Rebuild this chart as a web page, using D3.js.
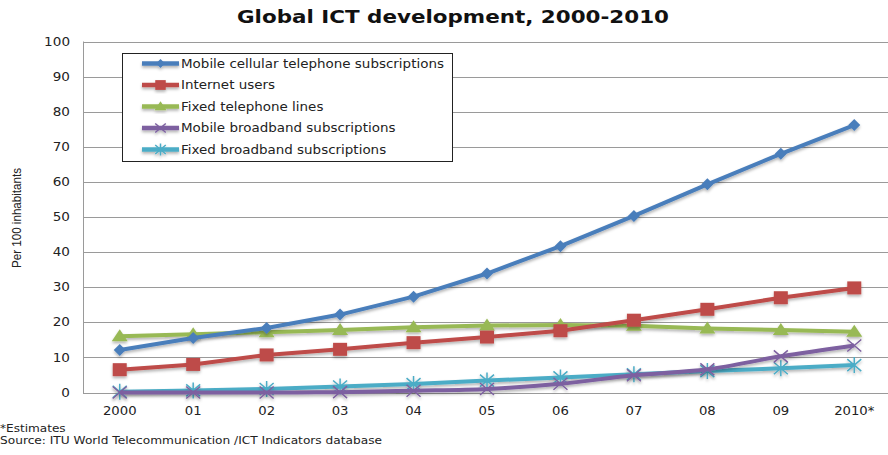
<!DOCTYPE html>
<html><head><meta charset="utf-8">
<script src="https://cdn.jsdelivr.net/npm/d3@7"></script>
<style>body{margin:0;background:#fff}svg{display:block}</style>
</head><body>
<script>
const categories = ["2000","01","02","03","04","05","06","07","08","09","2010*"];
const mobileCellular = [12.1,15.5,18.4,22.2,27.3,33.9,41.7,50.3,59.3,68.0,76.2];
const internetUsers = [6.5,8.0,10.7,12.3,14.2,15.8,17.6,20.6,23.7,27.0,29.8];
const fixedTelephone = [16.0,16.6,17.2,17.8,18.6,19.1,19.2,19.0,18.2,17.8,17.3];
const mobileBroadband = [0.0,0.0,0.0,0.1,0.5,1.0,2.5,4.9,6.6,10.3,13.4];
const fixedBroadband = [0.2,0.6,1.0,1.7,2.4,3.4,4.3,5.2,6.1,6.9,7.8];
const seriesNames = ["Mobile cellular telephone subscriptions","Internet users","Fixed telephone lines","Mobile broadband  subscriptions","Fixed broadband subscriptions"];
const yTicks = [0,10,20,30,40,50,60,70,80,90,100];

const series = [
  {name:seriesNames[0], values:mobileCellular, color:"#4a7ebb", marker:"diamond", smooth:false},
  {name:seriesNames[1], values:internetUsers, color:"#be4b48", marker:"square", smooth:false},
  {name:seriesNames[2], values:fixedTelephone, color:"#98b954", marker:"triangle", smooth:false},
  {name:seriesNames[3], values:mobileBroadband, color:"#7d60a0", marker:"x", smooth:true},
  {name:seriesNames[4], values:fixedBroadband, color:"#4bacc6", marker:"star", smooth:false}
];

const W=888,H=455;
const svg=d3.select("body").append("svg").attr("width",W).attr("height",H);
const defs=svg.append("defs");
const f=defs.append("filter").attr("id","sh").attr("x","-20%").attr("y","-20%").attr("width","140%").attr("height","160%");
f.append("feDropShadow").attr("dx",0).attr("dy",2).attr("stdDeviation",1.5).attr("flood-color","#000").attr("flood-opacity",0.3);

function stretch(sel,k){
  sel.each(function(){
    const l=this.getComputedTextLength();
    d3.select(this).attr("textLength",l*k).attr("lengthAdjust","spacingAndGlyphs");
  });
}

const pLeft=83,pRight=891,pTop=41.5,pBottom=392.5;
const x=d3.scaleBand().domain(categories).range([pLeft,pRight]);
const y=d3.scaleLinear().domain([0,100]).range([pBottom,pTop]);

// title
svg.append("text").attr("x",453).attr("y",23).attr("text-anchor","middle")
  .attr("font-family","DejaVu Sans").attr("font-weight","bold").attr("font-size",18)
  .attr("textLength",432).attr("lengthAdjust","spacingAndGlyphs").attr("fill","#111")
  .text("Global ICT development, 2000-2010");

// gridlines
svg.append("g").selectAll("line").data(yTicks).join("line")
  .attr("x1",pLeft).attr("x2",W).attr("y1",d=>Math.round(y(d))+0.5).attr("y2",d=>Math.round(y(d))+0.5)
  .attr("stroke","#9a9a9a").attr("stroke-width",1);
svg.append("line").attr("x1",pLeft+0.5).attr("x2",pLeft+0.5).attr("y1",pTop).attr("y2",pBottom+0.5).attr("stroke","#9a9a9a");

// y axis labels
const yAxis=d3.axisLeft(y).tickValues(yTicks).tickSize(0).tickPadding(13);
const ga=svg.append("g").attr("transform",`translate(${pLeft},0)`).call(yAxis);
ga.select(".domain").remove();
ga.selectAll("text").attr("font-family","DejaVu Sans").attr("font-size",11.5).attr("fill","#222");
stretch(ga.selectAll("text"),1.18);

// x axis labels
const xAxis=d3.axisBottom(x).tickSize(0).tickPadding(14);
const gx=svg.append("g").attr("transform",`translate(0,${pBottom})`).call(xAxis);
gx.select(".domain").remove();
gx.selectAll("text").attr("font-family","DejaVu Sans").attr("font-size",11.5).attr("fill","#222");
stretch(gx.selectAll("text"),1.15);

// y title
svg.append("text").attr("transform","translate(21,218) rotate(-90)").attr("text-anchor","middle")
  .attr("font-family","Liberation Sans Narrow, Liberation Sans").attr("font-size",12).attr("fill","#222")
  .attr("textLength",100).attr("lengthAdjust","spacingAndGlyphs")
  .text("Per 100 inhabitants");

// markers
function drawMarker(g,type,color,cx,cy,scale){
  const s=scale||1;
  if(type==="diamond"){
    g.append("path").attr("d",`M${cx},${cy-6*s}L${cx+6*s},${cy}L${cx},${cy+6*s}L${cx-6*s},${cy}Z`).attr("fill",color);
  } else if(type==="square"){
    g.append("rect").attr("x",cx-7*s).attr("y",cy-6.5*s).attr("width",14*s).attr("height",13*s).attr("fill",color);
  } else if(type==="triangle"){
    g.append("path").attr("d",`M${cx},${cy-7*s}L${cx+8*s},${cy+5*s}L${cx-8*s},${cy+5*s}Z`).attr("fill",color);
  } else if(type==="x"){
    g.append("path").attr("d",`M${cx-7*s},${cy-6*s}L${cx+7*s},${cy+6*s}M${cx-7*s},${cy+6*s}L${cx+7*s},${cy-6*s}`).attr("stroke",color).attr("stroke-width",1.5);
  } else if(type==="star"){
    g.append("path").attr("d",`M${cx-7*s},${cy-6*s}L${cx+7*s},${cy+6*s}M${cx-7*s},${cy+6*s}L${cx+7*s},${cy-6*s}M${cx},${cy-8*s}L${cx},${cy+8*s}`).attr("stroke",color).attr("stroke-width",1.5);
  }
}

const cxOf=d=>x(d)+x.bandwidth()/2;
const order=[4,3,2,1,0];
order.forEach(i=>{
  const s=series[i];
  const g=svg.append("g").attr("filter","url(#sh)");
  const line=d3.line().x((d,j)=>cxOf(categories[j])).y(d=>y(d)).curve(s.smooth?d3.curveCatmullRom.alpha(0.5):d3.curveLinear);
  g.append("path").datum(s.values).attr("d",line).attr("fill","none").attr("stroke",s.color).attr("stroke-width",4).attr("stroke-linejoin","round");
  s.values.forEach((v,j)=>drawMarker(g,s.marker,s.color,cxOf(categories[j]),y(v)));
});

// legend
const lg=svg.append("g");
lg.append("rect").attr("x",122.5).attr("y",53.5).attr("width",330).attr("height",108).attr("fill","#fff").attr("stroke","#222").attr("stroke-width",1);
const ly=d3.scalePoint().domain(seriesNames).range([63.5,149.5]);
series.forEach(s=>{
  const yy=ly(s.name);
  const g=lg.append("g").attr("filter","url(#sh)");
  g.append("line").attr("x1",142).attr("x2",179).attr("y1",yy).attr("y2",yy).attr("stroke",s.color).attr("stroke-width",4.5);
  drawMarker(g,s.marker,s.color,160.5,yy,0.75);
  const t=lg.append("text").attr("x",181).attr("y",yy+4).attr("font-family","DejaVu Sans").attr("font-size",11.5).attr("fill","#222").text(s.name);
  stretch(t,1.17);
});

// notes
const n1=svg.append("text").attr("x",0).attr("y",432).attr("font-family","DejaVu Sans").attr("font-size",10.5).attr("fill","#222").text("*Estimates");
stretch(n1,1.15);
svg.append("text").attr("x",0).attr("y",444).attr("font-family","DejaVu Sans").attr("font-size",10.5).attr("fill","#222")
  .attr("textLength",382).attr("lengthAdjust","spacingAndGlyphs")
  .text("Source:  ITU World Telecommunication /ICT Indicators database");
</script>
</body></html>
